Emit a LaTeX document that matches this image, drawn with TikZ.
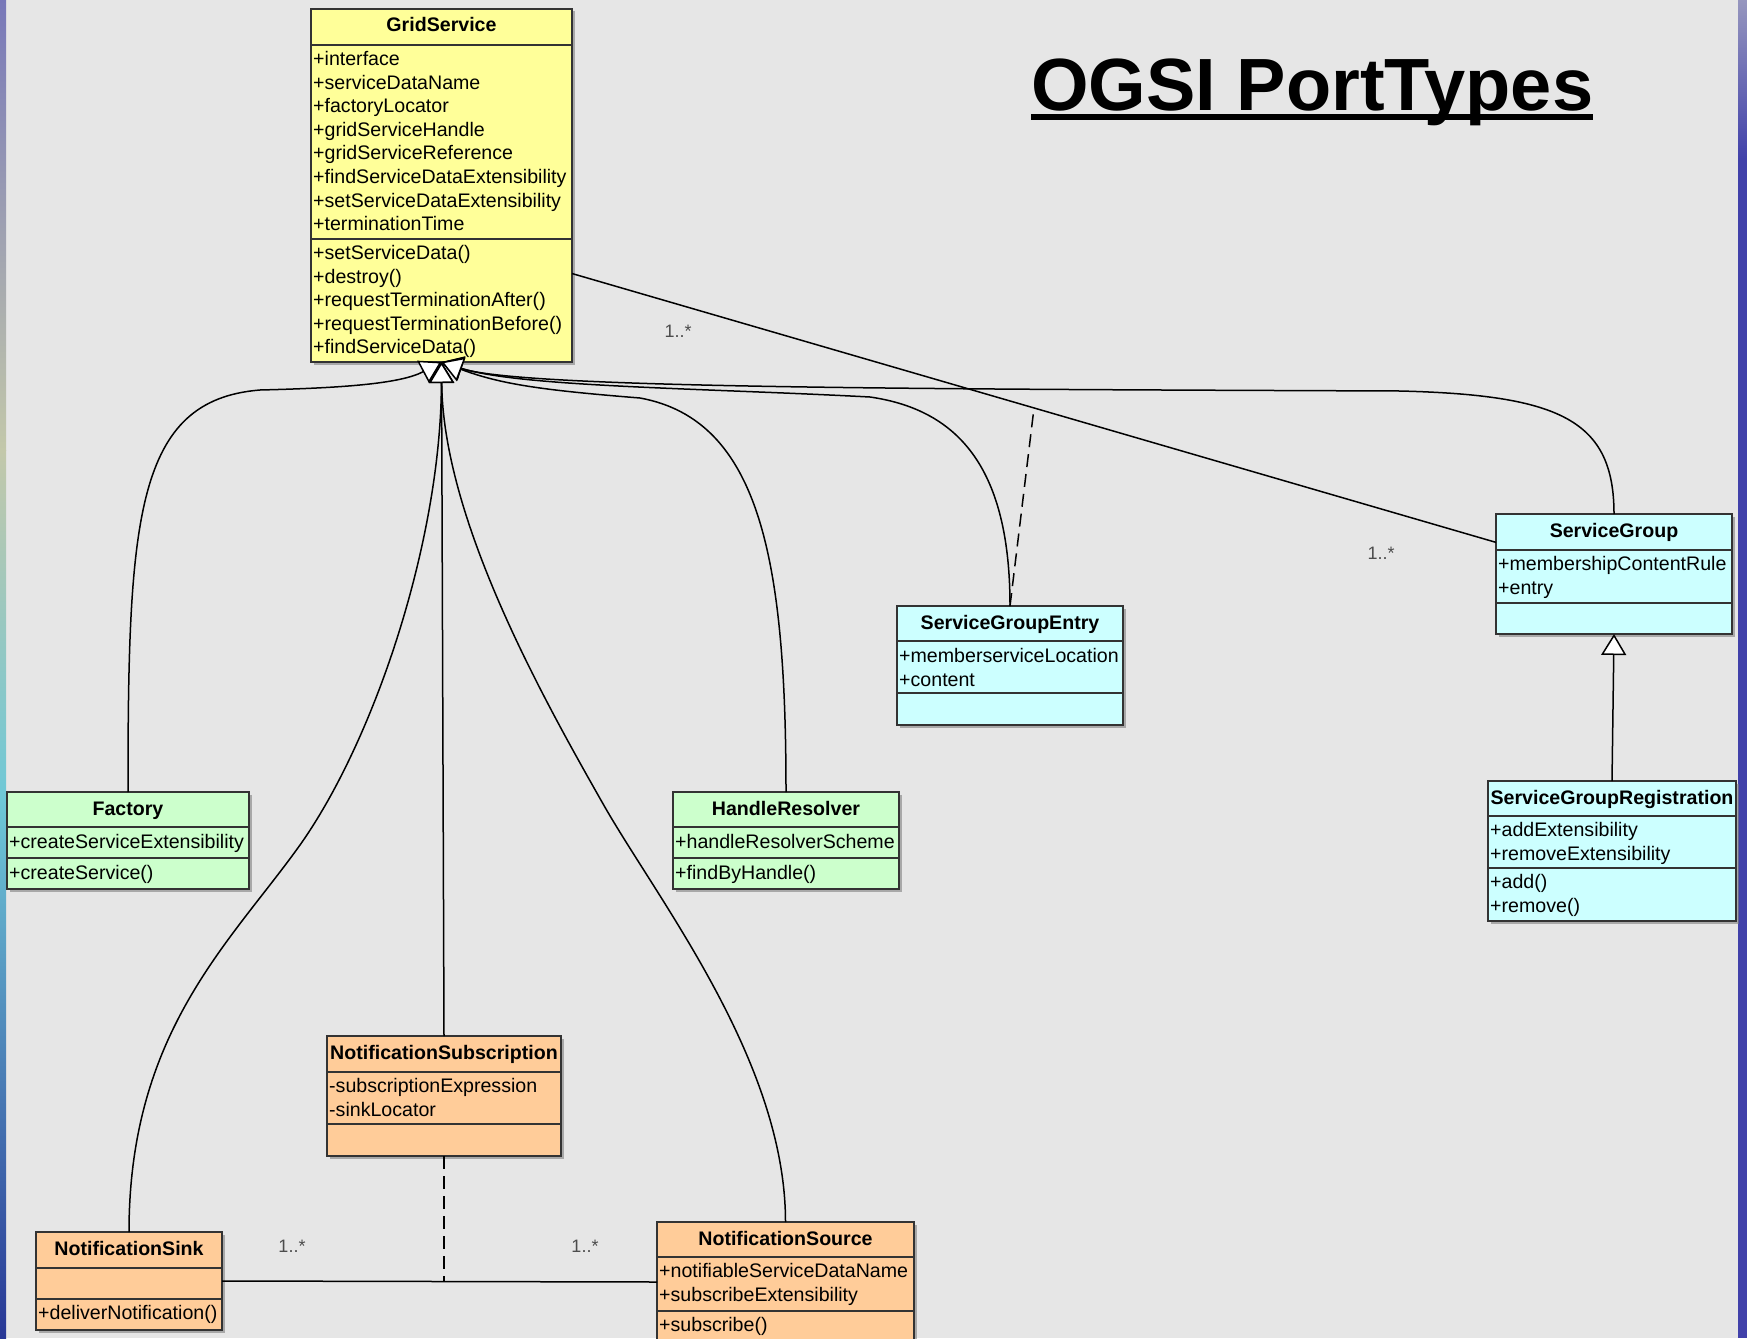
\documentclass[tikz,border=0pt]{standalone}
\usepackage{fontspec}
\setmainfont{Liberation Sans}
\usepackage{tikz}
\usetikzlibrary{arrows.meta,shadows}

\definecolor{bggray}{RGB}{230,230,230}
\definecolor{gsyellow}{RGB}{255,255,153}
\definecolor{pgreen}{RGB}{204,255,204}
\definecolor{pcyan}{RGB}{204,255,255}
\definecolor{porange}{RGB}{255,204,153}
\definecolor{stripA}{RGB}{120,120,185}
\definecolor{stripB}{RGB}{195,200,170}
\definecolor{stripC}{RGB}{110,200,215}
\definecolor{stripD}{RGB}{40,55,150}
\definecolor{stripE}{RGB}{150,150,190}
\definecolor{stripF}{RGB}{65,65,170}

\begin{document}
\begin{tikzpicture}[x=1pt, y=-1pt,
  cls/.style={draw=black!80, line width=1.6pt, anchor=north west, inner sep=0pt, outer sep=0pt,
              drop shadow={shadow xshift=2.5pt, shadow yshift=-2.5pt, fill=black!50, opacity=0.6}},
  sep/.style={draw=black!80, line width=1.6pt},
  hd/.style={anchor=base, inner sep=0pt, font=\bfseries\fontsize{19.6}{23.6}\selectfont},
  rows/.style={anchor=north west, align=left, inner sep=0pt, font=\fontsize{19.6}{23.6}\selectfont},
  mult/.style={inner sep=0pt, text=black!70, font=\fontsize{18}{20}\selectfont},
  gen/.style={line width=1.5pt, -{Triangle[length=21pt, width=25pt, fill=white]}},
  assoc/.style={line width=1.5pt},
  link/.style={line width=1.5pt, dash pattern=on 13pt off 7pt}]

%\draw[help lines, step=50] (0,0) grid (1747,1338);

\useasboundingbox (0,0) rectangle (1747,1338);
\fill[bggray] (0,0) rectangle (1747,1338);

% side strips
\shade[top color=stripA, bottom color=stripB] (0,0) rectangle (6,450);
\shade[top color=stripB, bottom color=stripC] (0,450) rectangle (6,800);
\shade[top color=stripC, bottom color=stripD] (0,800) rectangle (6,1338);
\shade[top color=stripE, bottom color=stripF] (1738,0) rectangle (1747,160);
\fill[stripF] (1738,160) rectangle (1747,1338);

% title
\node[anchor=base west, inner sep=0pt, font=\bfseries\fontsize{74}{80}\selectfont] (title) at (1031,110) {OGSI PortTypes};
\draw[line width=6pt] ([yshift=-7pt]title.base west) -- ([yshift=-7pt]title.base east);

% GridService
\node[cls, fill=gsyellow, minimum width=261pt, minimum height=353pt] (gs) at (311,9) {};
\draw[sep] (311,45) -- (572,45);
\draw[sep] (311,239) -- (572,239);
\node[hd] (gs-name) at (441.5,32) {GridService};
\node[rows] (gs-attr) at (313,51) {+interface\\+serviceDataName\\+factoryLocator\\+gridServiceHandle\\+gridServiceReference\\+findServiceDataExtensibility\\+setServiceDataExtensibility\\+terminationTime};
\node[rows] (gs-ops) at (313,245) {+setServiceData()\\+destroy()\\+requestTerminationAfter()\\+requestTerminationBefore()\\+findServiceData()};

% Factory
\node[cls, fill=pgreen, minimum width=242pt, minimum height=97pt] (fac) at (7,792) {};
\draw[sep] (7,827) -- (249,827);
\draw[sep] (7,858) -- (249,858);
\node[hd] (fac-name) at (128,815) {Factory};
\node[rows] (fac-attr) at (9,834) {+createServiceExtensibility};
\node[rows] (fac-ops) at (9,865) {+createService()};

% HandleResolver
\node[cls, fill=pgreen, minimum width=226pt, minimum height=97pt] (hr) at (673,792) {};
\draw[sep] (673,827) -- (899,827);
\draw[sep] (673,858) -- (899,858);
\node[hd] (hr-name) at (786,815) {HandleResolver};
\node[rows] (hr-attr) at (675,834) {+handleResolverScheme};
\node[rows] (hr-ops) at (675,865) {+findByHandle()};

% ServiceGroupEntry
\node[cls, fill=pcyan, minimum width=226pt, minimum height=119pt] (sge) at (897,606) {};
\draw[sep] (897,641) -- (1123,641);
\draw[sep] (897,693) -- (1123,693);
\node[hd] (sge-name) at (1010,629) {ServiceGroupEntry};
\node[rows] (sge-attr) at (899,648) {+memberserviceLocation\\+content};

% ServiceGroup
\node[cls, fill=pcyan, minimum width=236pt, minimum height=120pt] (sg) at (1496,514) {};
\draw[sep] (1496,550) -- (1732,550);
\draw[sep] (1496,603) -- (1732,603);
\node[hd] (sg-name) at (1614,537) {ServiceGroup};
\node[rows] (sg-attr) at (1498,556) {+membershipContentRule\\+entry};

% ServiceGroupRegistration
\node[cls, fill=pcyan, minimum width=248pt, minimum height=140pt] (sgr) at (1488,781) {};
\draw[sep] (1488,816) -- (1736,816);
\draw[sep] (1488,868) -- (1736,868);
\node[hd] (sgr-name) at (1612,804) {ServiceGroupRegistration};
\node[rows] (sgr-attr) at (1490,822) {+addExtensibility\\+removeExtensibility};
\node[rows] (sgr-ops) at (1490,874) {+add()\\+remove()};

% NotificationSubscription
\node[cls, fill=porange, minimum width=234pt, minimum height=120pt] (nsub) at (327,1036) {};
\draw[sep] (327,1072) -- (561,1072);
\draw[sep] (327,1124) -- (561,1124);
\node[hd] (nsub-name) at (444,1059) {NotificationSubscription};
\node[rows] (nsub-attr) at (329,1078) {-subscriptionExpression\\-sinkLocator};

% NotificationSink
\node[cls, fill=porange, minimum width=186pt, minimum height=98pt] (nsink) at (36,1232) {};
\draw[sep] (36,1268) -- (222,1268);
\draw[sep] (36,1299) -- (222,1299);
\node[hd] (nsink-name) at (129,1255) {NotificationSink};
\node[rows] (nsink-ops) at (38,1305) {+deliverNotification()};

% NotificationSource
\node[cls, fill=porange, minimum width=257pt, minimum height=120pt] (nsrc) at (657,1222) {};
\draw[sep] (657,1257) -- (914,1257);
\draw[sep] (657,1311) -- (914,1311);
\node[hd] (nsrc-name) at (785.5,1245) {NotificationSource};
\node[rows] (nsrc-attr) at (659,1263) {+notifiableServiceDataName\\+subscribeExtensibility};
\node[rows] (nsrc-ops) at (659,1317) {+subscribe()};

% inheritance from GridService
\draw[gen] (sg.north) .. controls (1614,420) and (1560,395) .. (1400,391)
                      .. controls (900,389) and (520,388) .. (gs.south);
\draw[gen] (sge.north) .. controls (1010,470) and (960,410) .. (870,397)
                       .. controls (700,388) and (520,387) .. (gs.south);
\draw[gen] (hr.north) .. controls (786,560) and (760,420) .. (640,398)
                      .. controls (540,390) and (500,384) .. (gs.south);
\draw[gen] (nsrc.north) .. controls (785.5,1060) and (656,898) .. (602,802)
                        .. controls (543,698) and (443,520) .. (gs.south);
\draw[gen] (fac.north) .. controls (128,520) and (135,400) .. (260,390)
                       .. controls (340,388) and (400,384) .. (gs.south);
\draw[gen] (nsink.north) .. controls (129,1032) and (230,943) .. (300,845)
                         .. controls (375,739) and (441,540) .. (gs.south);
\draw[gen] (nsub.north) -- (gs.south);

\draw[gen] (sgr.north) -- (sg.south);

% associations
\draw[assoc] (gs.-34.4) -- coordinate (gsmid) (sg.165.7);
\draw[link] (sge.north) -- (gsmid);
\node[mult] (m1) at (678,331) {1..*};
\node[mult] (m2) at (1381,553) {1..*};

\draw[assoc] (nsink.east) -- coordinate (nmid) (nsrc.west);
\draw[link] (nsub.south) -- (nsub.south |- nmid);
\node[mult] (m3) at (292,1246) {1..*};
\node[mult] (m4) at (585,1246) {1..*};

\end{tikzpicture}
\end{document}
